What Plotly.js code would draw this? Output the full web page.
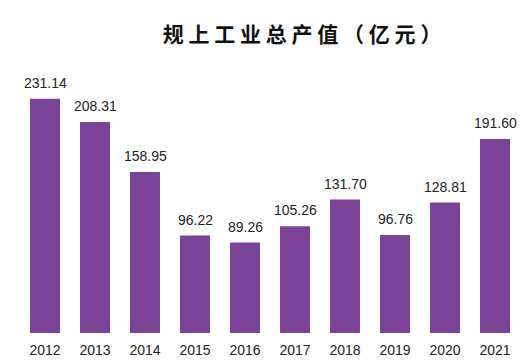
<!DOCTYPE html>
<html><head><meta charset="utf-8">
<script src="https://cdn.plot.ly/plotly-3.0.1.min.js"></script>
<style>html,body{margin:0;padding:0;background:#fff;}#chart{width:529px;height:361px;}</style>
</head><body><div id="chart"></div>
<script>
const years = ['2012','2013','2014','2015','2016','2017','2018','2019','2020','2021'];
const values = [231.14, 208.31, 158.95, 96.22, 89.26, 105.26, 131.70, 96.76, 128.81, 191.60];
const titleText = '规 上 工 业 总 产 值 （ 亿 元 ）';

const trace = {
  type: 'bar', x: years, y: values,
  marker: {color: '#7a4397'},
  hoverinfo: 'none'
};
const labels = years.map((yr, i) => ({
  x: i, y: values[i], xref: 'x', yref: 'y',
  text: values[i].toFixed(2), showarrow: false,
  xanchor: 'center', yanchor: 'middle', yshift: 16,
  font: {family: 'Liberation Sans, Arial, sans-serif', size: 14, color: '#222'}
}));
const layout = {
  width: 529, height: 361,
  margin: {l: 19.5, r: 8.5, t: 60, b: 28},
  paper_bgcolor: '#fff', plot_bgcolor: '#fff',
  bargap: 0.4, showlegend: false,
  annotations: labels,
  title: {text: titleText, x: 0.571, xanchor: 'center', y: 0.905, yanchor: 'middle',
    font: {family: 'Noto Sans CJK SC, sans-serif', size: 21, color: '#111', weight: 'bold'}},
  xaxis: {type: 'category', range: [-0.5, 9.5], showgrid: false, zeroline: false, showline: false,
    ticks: '', ticklabelstandoff: 7,
    tickfont: {family: 'Liberation Sans, Arial, sans-serif', size: 14, color: '#222'}},
  yaxis: {range: [0, 269.5], visible: false, showgrid: false, zeroline: false}
};
Plotly.newPlot('chart', [trace], layout, {staticPlot: true, displayModeBar: false});
</script></body></html>
